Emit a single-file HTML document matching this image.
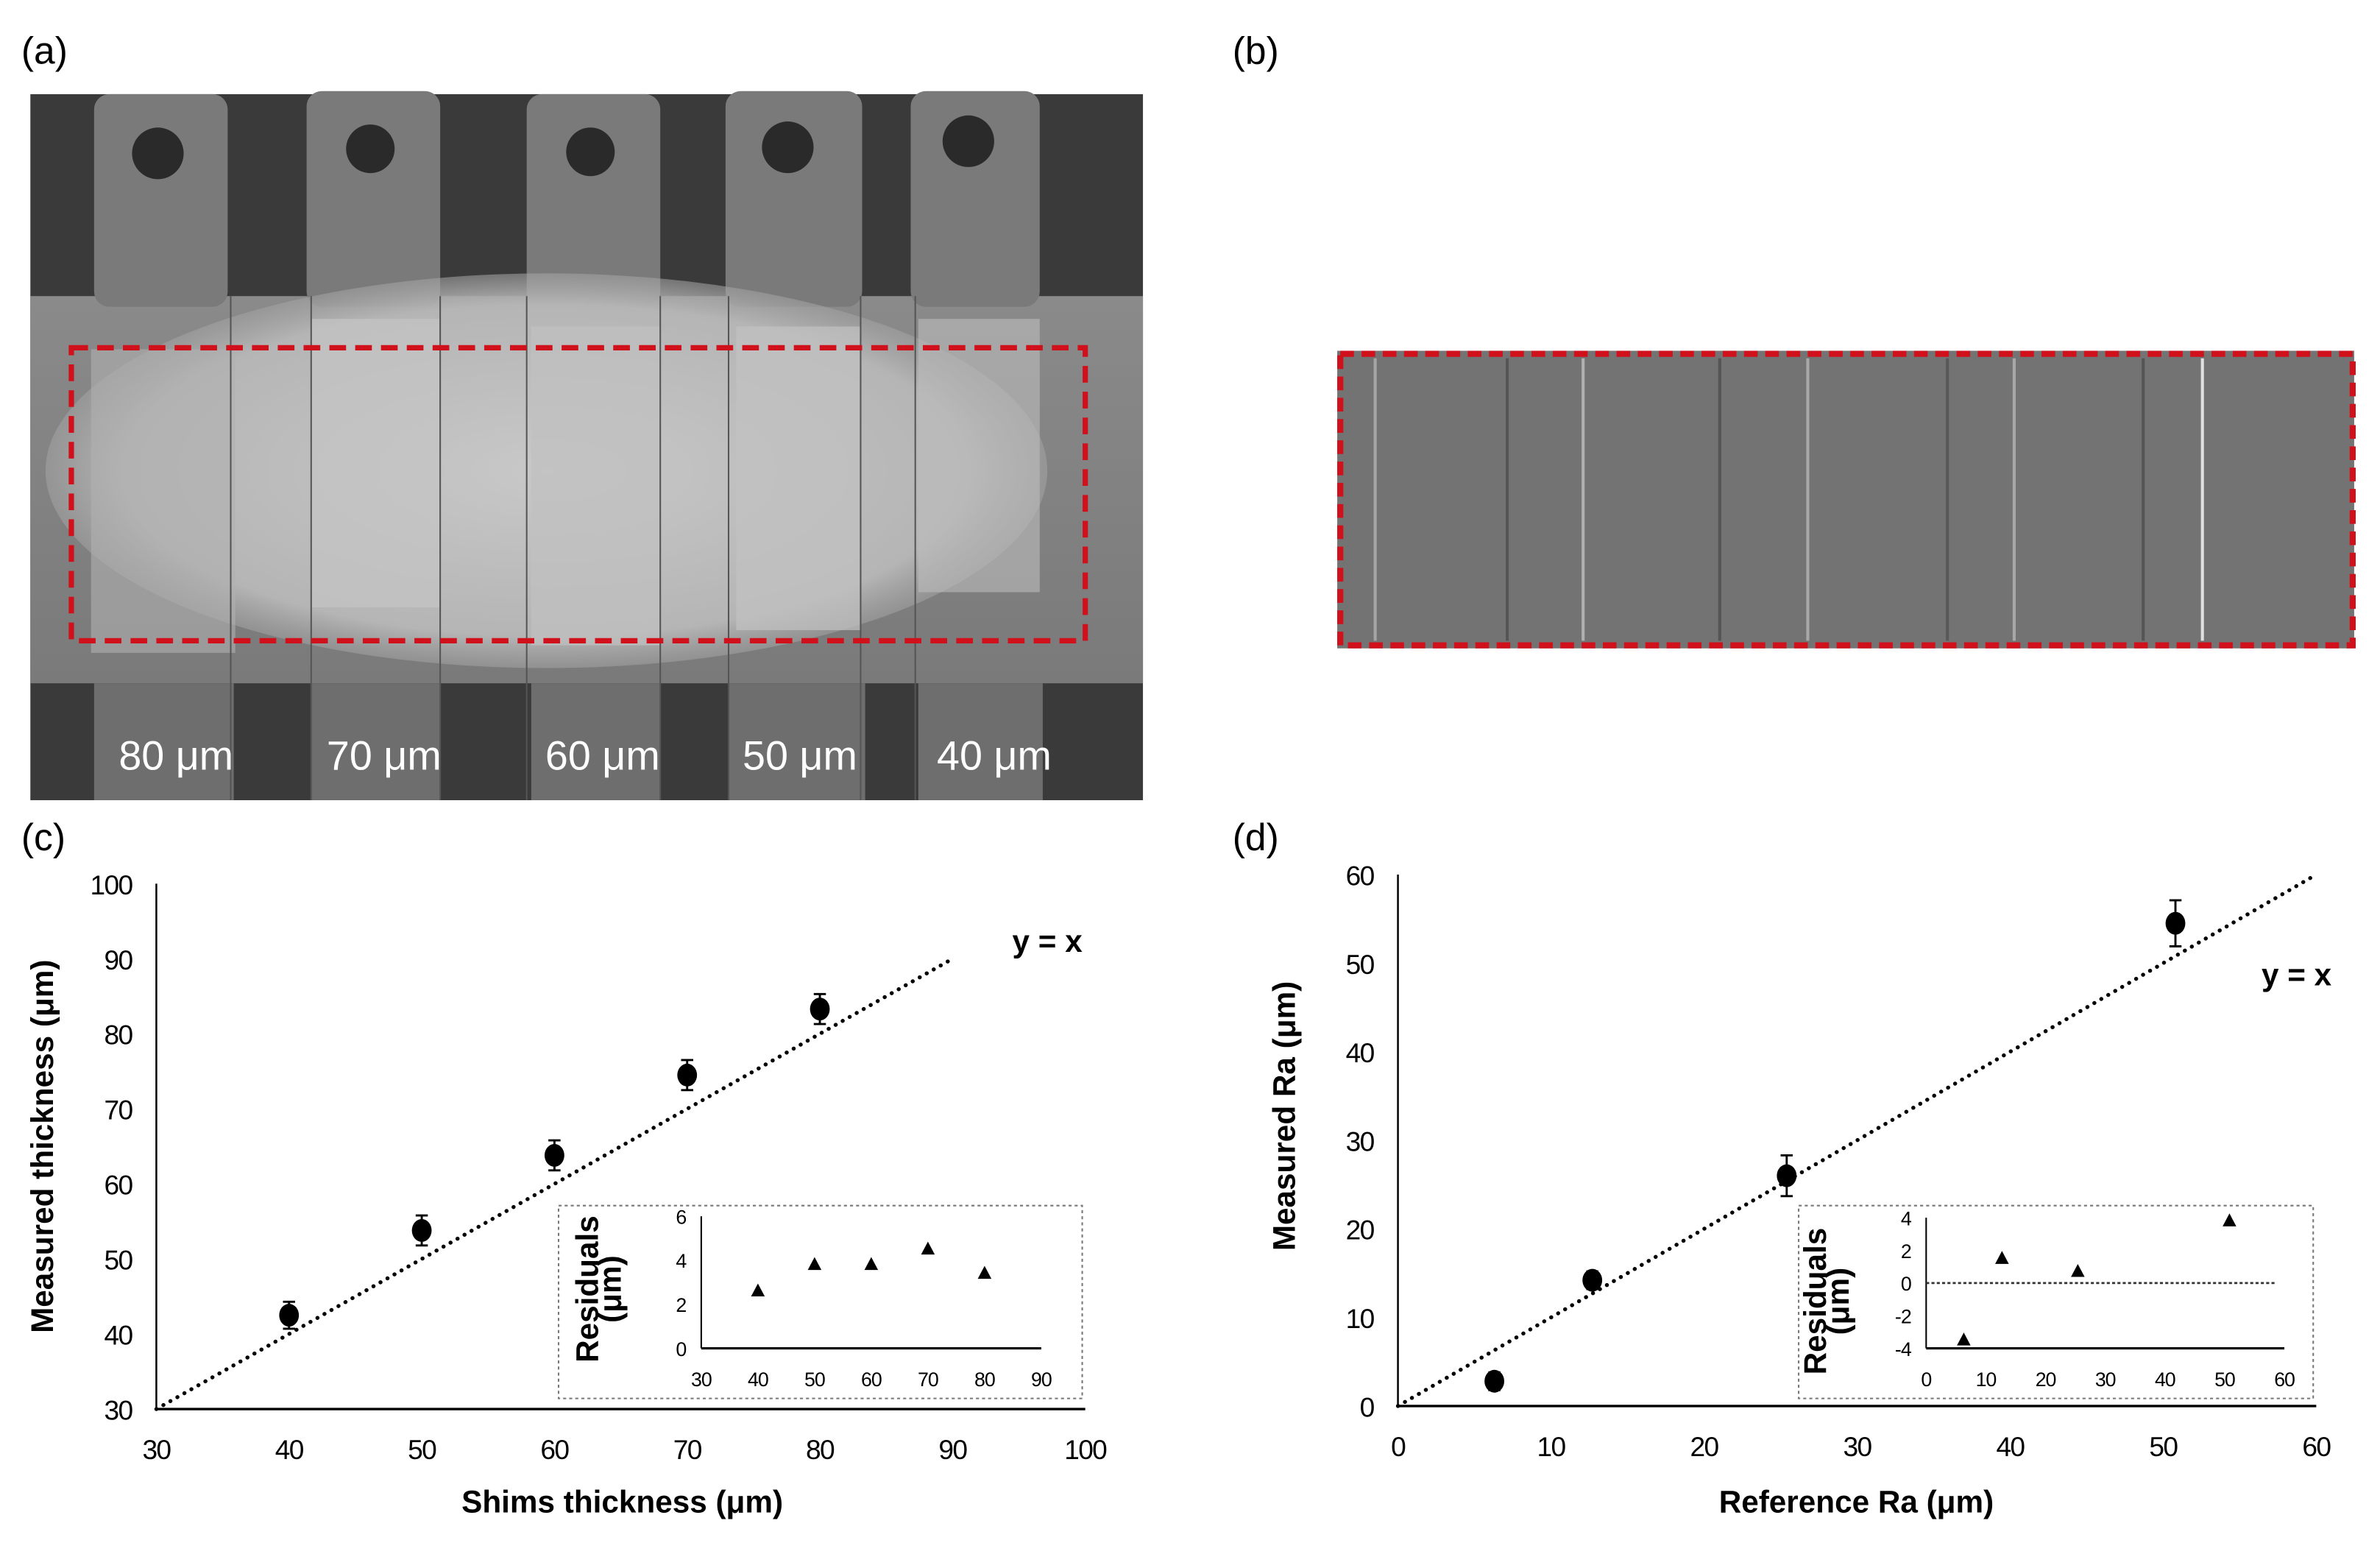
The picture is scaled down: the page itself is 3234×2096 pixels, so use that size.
<!DOCTYPE html>
<html><head><meta charset="utf-8"><style>
html,body{margin:0;padding:0;background:#fff;}
svg{display:block;}
text{font-family:"Liberation Sans Narrow","Liberation Sans",sans-serif;}
.lab{font-family:"Liberation Sans",sans-serif;font-size:25px;}
.tk{font-size:18px;fill:#000;letter-spacing:-0.8px;}
.tt{font-family:"Liberation Sans",sans-serif;font-weight:bold;font-size:20.5px;}
.itk{font-size:13px;letter-spacing:-0.5px;}
</style></head><body>
<svg id="fig" width="3234" height="2096" viewBox="0 0 1568 1016.2" xmlns="http://www.w3.org/2000/svg">
<defs>
<linearGradient id="gmid" x1="0" y1="0" x2="0" y2="1"><stop offset="0" stop-color="#8a8a8a"/><stop offset="1" stop-color="#7a7a7a"/></linearGradient>
<radialGradient id="blob" cx="0.5" cy="0.5" r="0.6"><stop offset="0" stop-color="#c8c8c8"/><stop offset="0.7" stop-color="#b5b5b5"/><stop offset="1" stop-color="#8e8e8e" stop-opacity="0"/></radialGradient>
</defs>
<text class="lab" x="14" y="42">(a)</text>
<text class="lab" x="812" y="42">(b)</text>
<text class="lab" x="14" y="560">(c)</text>
<text class="lab" x="812" y="560">(d)</text>

<g>
<rect x="20" y="62" width="733" height="465" fill="#3a3a3a"/>
<rect x="20" y="195" width="733" height="255" fill="url(#gmid)"/>
<g fill="#7a7a7a">
<rect x="62" y="62" width="88" height="140" rx="10"/><rect x="202" y="60" width="88" height="142" rx="10"/>
<rect x="347" y="62" width="88" height="140" rx="10"/><rect x="478" y="60" width="90" height="142" rx="10"/>
<rect x="600" y="60" width="85" height="142" rx="10"/>
</g>
<g fill="#2a2a2a"><circle cx="104" cy="101" r="17"/><circle cx="244" cy="98" r="16"/><circle cx="389" cy="100" r="16"/><circle cx="519" cy="97" r="17"/><circle cx="638" cy="93" r="17"/></g>
<g fill="#6e6e6e">
<rect x="62" y="450" width="92" height="77"/><rect x="205" y="450" width="85" height="77"/>
<rect x="350" y="450" width="85" height="77"/><rect x="480" y="450" width="90" height="77"/>
<rect x="605" y="450" width="82" height="77"/>
</g>
<ellipse cx="360" cy="310" rx="330" ry="130" fill="url(#blob)"/>
<rect x="60" y="230" width="95" height="200" fill="#b0b0b0" opacity="0.6"/>
<rect x="205" y="210" width="85" height="190" fill="#c4c4c4" opacity="0.7"/>
<rect x="350" y="215" width="85" height="210" fill="#c0c0c0" opacity="0.7"/>
<rect x="485" y="215" width="82" height="200" fill="#c2c2c2" opacity="0.7"/>
<rect x="605" y="210" width="80" height="180" fill="#bdbdbd" opacity="0.6"/>
<g stroke="#555" stroke-width="1"><line x1="152" y1="195" x2="152" y2="527"/><line x1="205" y1="195" x2="205" y2="527"/><line x1="290" y1="195" x2="290" y2="527"/><line x1="347" y1="195" x2="347" y2="527"/><line x1="435" y1="195" x2="435" y2="527"/><line x1="480" y1="195" x2="480" y2="527"/><line x1="567" y1="195" x2="567" y2="527"/><line x1="603" y1="195" x2="603" y2="527"/></g>
<rect x="47" y="229" width="668" height="193" fill="none" stroke="#d0101a" stroke-width="3.5" stroke-dasharray="11,6"/>
<g fill="#fff" font-family="Liberation Sans,sans-serif" font-size="27">
<text x="116" y="507" text-anchor="middle">80 μm</text>
<text x="253" y="507" text-anchor="middle">70 μm</text>
<text x="397" y="507" text-anchor="middle">60 μm</text>
<text x="527" y="507" text-anchor="middle">50 μm</text>
<text x="655" y="507" text-anchor="middle">40 μm</text>
</g>
</g>

<g>
<rect x="881" y="231" width="670" height="196" fill="#737373"/>
<g stroke-width="2">
<line x1="906" y1="236" x2="906" y2="422" stroke="#a5a5a5"/>
<line x1="993" y1="236" x2="993" y2="422" stroke="#555"/>
<line x1="1043" y1="236" x2="1043" y2="422" stroke="#b0b0b0"/>
<line x1="1133" y1="236" x2="1133" y2="422" stroke="#555"/>
<line x1="1191" y1="236" x2="1191" y2="422" stroke="#a8a8a8"/>
<line x1="1283" y1="236" x2="1283" y2="422" stroke="#585858"/>
<line x1="1327" y1="236" x2="1327" y2="422" stroke="#a8a8a8"/>
<line x1="1412" y1="236" x2="1412" y2="422" stroke="#555"/>
<line x1="1451" y1="236" x2="1451" y2="422" stroke="#e0e0e0"/>
</g>
<rect x="883" y="233" width="667" height="192" fill="none" stroke="#d0101a" stroke-width="4" stroke-dasharray="9,5"/>
</g>

<g id="chartC"></g>
<g id="chartD"></g>
</svg>
<script>
const cX=[40,50,60,70,80];
const cY=[42.5,53.8,63.8,74.5,83.3];
const cErr=[1.8,2.0,2.0,2.0,2.0];
const cRes=[2.6,3.8,3.8,4.5,3.4];
const cXTicks=[30,40,50,60,70,80,90,100];
const cYTicks=[30,40,50,60,70,80,90,100];
const cIXTicks=[30,40,50,60,70,80,90];
const cIYTicks=[0,2,4,6];
const dX=[6.3,12.7,25.4,50.8];
const dY=[2.8,14.2,26.0,54.5];
const dErr=[1.0,1.0,2.3,2.6];
const dRes=[-3.5,1.5,0.7,3.8];
const dXTicks=[0,10,20,30,40,50,60];
const dYTicks=[0,10,20,30,40,50,60];
const dIXTicks=[0,10,20,30,40,50,60];
const dIYTicks=[-4,-2,0,2,4];
const NS='http://www.w3.org/2000/svg';
function mk(p,t,a,txt){const e=document.createElementNS(NS,t);for(const k in a)e.setAttribute(k,a[k]);if(txt!==undefined)e.textContent=txt;p.appendChild(e);return e;}
function lin(d0,d1,r0,r1){return v=>r0+(v-d0)*(r1-r0)/(d1-d0);}

function chart(g,o){
  const X=lin(o.xd[0],o.xd[1],o.xr[0],o.xr[1]), Y=lin(o.yd[0],o.yd[1],o.yr[0],o.yr[1]);
  let e=mk(g,'line',{x1:o.xr[0],y1:o.yr[0],x2:o.xr[1],y2:o.yr[0],stroke:'#000','stroke-width':1.6});
  
  e=mk(g,'line',{x1:o.xr[0],y1:o.yr[0],x2:o.xr[0],y2:o.yr[1],stroke:'#000','stroke-width':1.2});
  
  o.xt.forEach(v=>{const t=mk(g,'text',{x:X(v),y:o.yr[0]+33,'text-anchor':'middle',class:'tk'},v);
    });
  o.yt.forEach(v=>{const t=mk(g,'text',{x:o.xr[0]-16,y:Y(v)+7,'text-anchor':'end',class:'tk'},v);
    });
  e=mk(g,'line',{x1:X(o.ld[0]),y1:Y(o.ld[0]),x2:X(o.ld[1]),y2:Y(o.ld[1]),stroke:'#000','stroke-width':2.6,'stroke-dasharray':'0.1,5.2','stroke-linecap':'round'});
  
  e=mk(g,'text',{x:o.yx[0],y:o.yx[1],'text-anchor':'middle',class:'tt','font-size':17},'y = x');
  
  e=mk(g,'text',{x:o.xtitle[0],y:o.xtitle[1],'text-anchor':'middle',class:'tt'},o.xlab);
  
  e=mk(g,'text',{x:0,y:0,'text-anchor':'middle',class:'tt',transform:`translate(${o.ytitle[0]},${o.ytitle[1]}) rotate(-90)`},o.ylab);
  
  o.px.forEach((x,i)=>{
    const cx=X(x),cy=Y(o.py[i]),t=Y(o.py[i]+o.pe[i]),b=Y(o.py[i]-o.pe[i]);
    const eb=mk(g,'path',{d:`M${cx},${t}V${b}M${cx-4},${t}H${cx+4}M${cx-4},${b}H${cx+4}`,stroke:'#000','stroke-width':1.4,fill:'none'});
    
    const c=mk(g,'ellipse',{cx:cx,cy:cy,rx:6.5,ry:7.5,fill:'#000'});
    
  });
  const b=o.ib;
  e=mk(g,'rect',{x:b[0],y:b[1],width:b[2]-b[0],height:b[3]-b[1],fill:'#fff',stroke:'#777','stroke-width':1,'stroke-dasharray':'2,2'});
  
  const IX=lin(o.ixd[0],o.ixd[1],o.ixr[0],o.ixr[1]), IY=lin(o.iyd[0],o.iyd[1],o.iyr[0],o.iyr[1]);
  e=mk(g,'line',{x1:o.ixr[0],y1:o.iyr[0],x2:o.ixr[1],y2:o.iyr[0],stroke:'#000','stroke-width':1.5});
  
  e=mk(g,'line',{x1:o.ixr[0],y1:o.iyr[0],x2:o.ixr[0],y2:o.iyr[1],stroke:'#000','stroke-width':1});
  
  if(o.zero){e=mk(g,'line',{x1:o.ixr[0],y1:IY(0),x2:o.ixr[1]-6,y2:IY(0),stroke:'#333','stroke-width':1.3,'stroke-dasharray':'2,1.5'});
    }
  o.ixt.forEach(v=>{const t=mk(g,'text',{x:IX(v),y:o.iyr[0]+25,'text-anchor':'middle',class:'itk'},v);
    });
  o.iyt.forEach(v=>{const t=mk(g,'text',{x:o.ixr[0]-10,y:IY(v)+5,'text-anchor':'end',class:'itk'},v);
    });
  e=mk(g,'text',{x:0,y:0,'text-anchor':'middle',class:'tt','font-size':12.5,transform:`translate(${o.irt[0]},${o.irt[1]}) rotate(-90)`});
  
  mk(e,'tspan',{x:0,dy:0},'Residuals');mk(e,'tspan',{x:0,dy:15},'(μm)');
  o.px.forEach((x,i)=>{const cx=IX(x),cy=IY(o.res[i]);
    const p=mk(g,'path',{d:`M${cx},${cy-5}L${cx+4.5},${cy+3.5}L${cx-4.5},${cy+3.5}Z`,fill:'#000'});
    });
}
chart(document.getElementById('chartC'),{xd:[30,100],xr:[103,715],yd:[30,100],yr:[928,582],xt:cXTicks,yt:cYTicks,
  ld:[30,90],yx:[690,627],xlab:'Shims thickness (μm)',ylab:'Measured thickness (μm)',xtitle:[410,996],ytitle:[35,755],
  px:cX,py:cY,pe:cErr,res:cRes,ib:[368,794,713,921],ixd:[30,90],ixr:[462,686],iyd:[0,6],iyr:[888,801],ixt:cIXTicks,iyt:cIYTicks,irt:[394,849],zero:false});
chart(document.getElementById('chartD'),{xd:[0,60],xr:[921,1526],yd:[0,60],yr:[926,576],xt:dXTicks,yt:dYTicks,
  ld:[0,60],yx:[1513,649],xlab:'Reference Ra (μm)',ylab:'Measured Ra (μm)',xtitle:[1223,996],ytitle:[853,735],
  px:dX,py:dY,pe:dErr,res:dRes,ib:[1185,794,1524,921],ixd:[0,60],ixr:[1269,1505],iyd:[-4,4],iyr:[888,802],ixt:dIXTicks,iyt:dIYTicks,irt:[1203,857],zero:true});
</script>
</body></html>
